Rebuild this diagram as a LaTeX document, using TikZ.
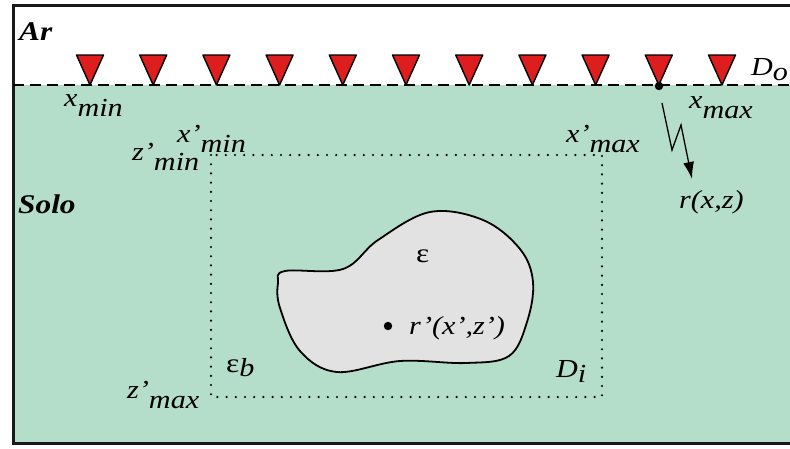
\documentclass[tikz,border=0pt]{standalone}
\usepackage{fontspec}
\setmainfont{Liberation Serif}
\newfontfamily\tnr[FakeStretch=1.16]{Liberation Serif}
\usetikzlibrary{arrows.meta}
\definecolor{soil}{RGB}{180,221,202}
\definecolor{recv}{RGB}{222,30,30}
\definecolor{blob}{RGB}{226,226,226}
\newcommand\lowsub[2][10pt]{\raisebox{-#1}{#2}}
\tikzset{
  lbl/.style={inner sep=0pt, anchor=base west, font=\tnr\fontsize{26}{30}\selectfont\itshape},
  bold/.style={inner sep=0pt, anchor=base west, font=\tnr\fontsize{27}{30}\selectfont\bfseries\itshape},
  frame/.style={line width=3pt, draw=black!90},
  surface/.style={line width=1.8pt, dash pattern=on 11pt off 6pt},
  receiver/.style={fill=recv, draw=black, line width=1.4pt, line join=round},
  invdomain/.style={line width=2.4pt, line cap=round, dash pattern=on 0pt off 9.2pt},
  body/.style={fill=blob, draw=black, line width=1.8pt},
  ray/.style={line width=1.3pt, -{Latex[length=17pt,width=11pt]}}
}
\begin{document}
\begin{tikzpicture}[x=1pt,y=-1pt]
\useasboundingbox (0,0) rectangle (790,448);
\fill[white] (0,0) rectangle (790,448);
\fill[soil] (13,85) rectangle (792,443);
\draw[frame] (795,5) -- (13,5) -- (13,443) -- (795,443);
\draw[surface] (13,85) -- (795,85);
\foreach \i in {0,...,10} {
  \path[receiver] ({90+63.2*\i-13.5},55) -- ({90+63.2*\i+13.5},55) -- ({90+63.2*\i},85) -- cycle;
}
% dotted inversion domain
\draw[invdomain] (211,155) rectangle (602,397);
% anomalous body
\draw[body] plot[smooth cycle, tension=0.6] coordinates {
  (285,271) (343,269) (378,240) (430,212) (483,220) (520,249) (533,282)
  (527,322) (509,356) (466,363) (400,361) (337,372) (300,351) (280,308) (278,283)};
% receiver dot and scattered ray
\fill (659,86) circle (4.2pt);
\coordinate (r0) at (662,103);
\coordinate (r1) at (672,150);
\coordinate (r2) at (681,125);
\coordinate (r3) at (692,179);
\draw[ray] (r0) -- (r1) -- (r2) -- (r3);
\fill (388,326) circle (4.2pt);
% labels
\node[bold] (ar) at (19,40) {Ar};
\node[bold] (solo) at (18,213) {Solo};
\node[lbl] (xmin) at (64,106) {x\lowsub{min}};
\node[lbl] (xmax) at (689,108) {x\lowsub{max}};
\node[lbl] (do) at (751,75) {D\lowsub[5pt]{o}};
\node[lbl] (xpmax) at (566,142) {x’\lowsub{max}};
\node[lbl] (xpmin) at (177,142) {x’\lowsub{min}};
\node[lbl] (zpmin) at (132,160) {z’\lowsub{min}};
\node[lbl] (zpmax) at (127,398) {z’\lowsub{max}};
\node[lbl] (rxz) at (679,208) {r(x,z)};
\node[lbl, font=\tnr\fontsize{27}{30}\selectfont] (eps) at (416,262) {ε};
\node[lbl] (rp) at (409,334) {r’(x’,z’)};
\node[lbl] (epsb) at (226,372) {{\upshape\fontsize{27}{30}\selectfont ε}\lowsub[4pt]{b}};
\node[lbl] (di) at (556,377) {D\lowsub[5pt]{i}};
\end{tikzpicture}
\end{document}
